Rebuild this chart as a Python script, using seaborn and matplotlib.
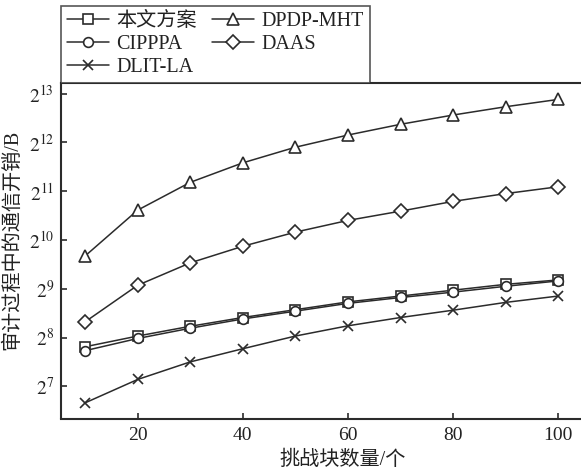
import numpy as np
import pandas as pd
import seaborn as sns
import matplotlib
matplotlib.use("Agg")
import matplotlib.pyplot as plt
from matplotlib.ticker import FixedLocator, FuncFormatter

# ---- data (log2 of communication cost in bytes) ----
blocks = [10, 20, 30, 40, 50, 60, 70, 80, 90, 100]
ours_log2 = [7.81, 8.03, 8.23, 8.41, 8.57, 8.73, 8.85, 8.97, 9.09, 9.18]
cipppa_log2 = [7.73, 7.98, 8.19, 8.38, 8.54, 8.70, 8.82, 8.93, 9.05, 9.16]
dlitla_log2 = [6.66, 7.14, 7.50, 7.77, 8.03, 8.24, 8.41, 8.56, 8.72, 8.85]
dpdpmht_log2 = [9.67, 10.61, 11.18, 11.58, 11.90, 12.15, 12.37, 12.56, 12.73, 12.88]
daas_log2 = [8.32, 9.07, 9.53, 9.87, 10.16, 10.40, 10.59, 10.79, 10.95, 11.09]
series_names = ["本文方案", "CIPPPA", "DLIT-LA", "DPDP-MHT", "DAAS"]
ytick_exps = [7, 8, 9, 10, 11, 12, 13]
xticks = [20, 40, 60, 80, 100]

series_vals = [ours_log2, cipppa_log2, dlitla_log2, dpdpmht_log2, daas_log2]
markers = {"本文方案": "s", "CIPPPA": "o", "DLIT-LA": "x", "DPDP-MHT": "^", "DAAS": "D"}
msizes = {"本文方案": 6.5, "CIPPPA": 7.0, "DLIT-LA": 7.0, "DPDP-MHT": 8.0, "DAAS": 7.0}

rows = []
for name, vals in zip(series_names, series_vals):
    for b, v in zip(blocks, vals):
        rows.append({"blocks": b, "cost": 2.0 ** v, "method": name})
df = pd.DataFrame(rows)

sns.set_style("ticks")
plt.rcParams["font.family"] = ["Liberation Serif", "Noto Sans CJK SC"]
plt.rcParams["mathtext.fontset"] = "stix"

dark = "#2b2b2b"
txt = "#222222"
fig = plt.figure(figsize=(5.81, 4.69), dpi=100)
ax = fig.add_axes([61 / 581, 1 - 418.5 / 469, (581 - 61) / 581, (418.5 - 83.3) / 469])

handles = {}
for name in series_names:
    sub = df[df["method"] == name]
    sns.lineplot(data=sub, x="blocks", y="cost", ax=ax, color=dark, lw=1.1,
                 marker=markers[name], markersize=msizes[name],
                 markerfacecolor="white" if markers[name] != "x" else dark,
                 markeredgecolor=dark, markeredgewidth=1.2, legend=False)
    handles[name] = ax.lines[-1]

ax.set_yscale("log", base=2)
ax.set_ylim(2 ** 6.34, 2 ** 13.21)
ax.set_xlim(5.43, 104.3)
ax.yaxis.set_major_locator(FixedLocator([2.0 ** e for e in ytick_exps]))
ax.yaxis.set_minor_locator(FixedLocator([]))
ax.yaxis.set_major_formatter(FuncFormatter(lambda v, p: r"$2^{%d}$" % round(np.log2(v))))
ax.set_xticks(xticks)
ax.set_xticklabels([str(t) for t in xticks])

for s in ["left", "bottom", "top"]:
    ax.spines[s].set_color(dark)
    ax.spines[s].set_linewidth(1.5)
ax.spines["right"].set_visible(False)
ax.tick_params(axis="both", direction="in", length=4, width=1.2, color=dark,
               labelsize=14, labelcolor=txt, pad=6)
ax.tick_params(axis="y", pad=5)

ax.set_xlabel("挑战块数量/个", fontsize=14.5, color=txt)
ax.set_ylabel("审计过程中的通信开销/B", fontsize=14.5, color=txt)
ax.xaxis.set_label_coords(0.542, -0.097)
ax.yaxis.set_label_coords(-0.074, 0.532)

order = ["本文方案", "CIPPPA", "DLIT-LA", "DPDP-MHT", "DAAS"]
leg = ax.legend([handles[n] for n in order], order, ncol=2, loc="lower left",
                bbox_to_anchor=(0.0, 1.0), borderaxespad=0.0, frameon=True,
                fancybox=False, fontsize=14.5, handlelength=2.1, handletextpad=0.35,
                columnspacing=0.75, labelspacing=0.2, borderpad=0.3)
leg.get_frame().set_edgecolor(dark)
leg.get_frame().set_linewidth(1.2)
for t in leg.get_texts():
    t.set_color(txt)

fig.savefig("out.png", dpi=100)
